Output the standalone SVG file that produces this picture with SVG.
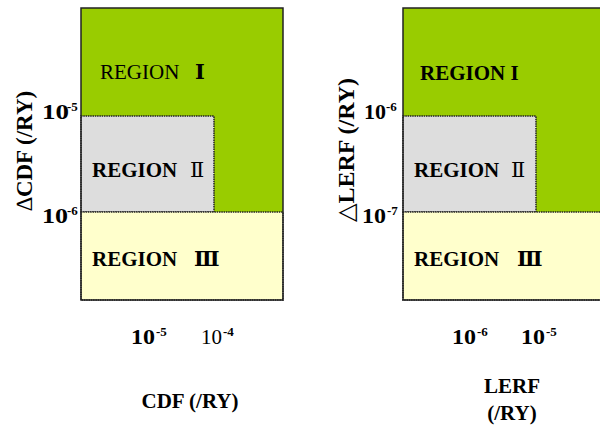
<svg xmlns="http://www.w3.org/2000/svg" width="600" height="429" viewBox="0 0 600 429">
<style>
text{font-family:"Liberation Serif","DejaVu Serif","Noto Sans CJK JP",serif;fill:#000}
.b{font-weight:bold}
.reg{font-size:21px}
.tick{font-size:20px;font-weight:bold}
.sup{font-size:13px;font-weight:bold}
.ax{font-size:21px;font-weight:bold}
.green{fill:#99CC00}
.gray{fill:#DDDDDD;stroke:#222;stroke-width:1.5;stroke-dasharray:1.5 0.8}
.yellow{fill:#FFFFCC;stroke:#222;stroke-width:1.5;stroke-dasharray:1.5 0.8}
.frame{fill:none;stroke:#222;stroke-width:1.5}
</style>
<rect width="600" height="429" fill="#fff"/>

<!-- Left chart -->
<g id="left-chart">
  <g id="left-region1">
    <rect class="green" x="81" y="8" width="202" height="204"/>
    <text class="reg" x="100" y="79"><tspan>REGION </tspan><tspan class="b" x="195">Ⅰ</tspan></text>
  </g>
  <g id="left-region2">
    <rect class="gray" x="81" y="116" width="133" height="96"/>
    <text class="reg b" x="92" y="177">REGION</text>
    <text class="reg" x="190" y="177">Ⅱ</text>
  </g>
  <g id="left-region3">
    <rect class="yellow" x="81" y="212" width="202" height="88"/>
    <text class="reg b" x="92" y="266">REGION</text>
    <text class="reg b" x="194" y="266">Ⅲ</text>
  </g>
  <rect class="frame" x="81" y="8" width="202" height="292"/>
  <g id="left-yticks">
    <text class="tick" x="42" y="119" textLength="27" lengthAdjust="spacingAndGlyphs">10</text>
    <text class="sup" x="67" y="111">-5</text>
    <text class="tick" x="42" y="223" textLength="26" lengthAdjust="spacingAndGlyphs">10</text>
    <text class="sup" x="67" y="215">-6</text>
  </g>
  <g id="left-xticks">
    <text class="tick" x="131" y="344" textLength="24" lengthAdjust="spacingAndGlyphs">10</text>
    <text class="sup" x="156" y="336">-5</text>
    <text style="font-size:20px" x="201" y="344" textLength="21" lengthAdjust="spacingAndGlyphs">10</text>
    <text class="sup" x="223" y="336">-4</text>
  </g>
  <text id="left-ylabel" class="ax" style="font-size:23px" transform="translate(32,151) rotate(-90)" text-anchor="middle"><tspan style="font-weight:normal">∆</tspan>CDF (/RY)</text>
  <text id="left-xlabel" class="ax" x="190" y="408" text-anchor="middle">CDF (/RY)</text>
</g>

<!-- Right chart -->
<g id="right-chart">
  <g id="right-region1">
    <rect class="green" x="403" y="8" width="200" height="204"/>
    <text class="reg b" x="420" y="80">REGION I</text>
  </g>
  <g id="right-region2">
    <rect class="gray" x="403" y="116" width="133" height="96"/>
    <text class="reg b" x="414" y="177">REGION</text>
    <text class="reg" x="511" y="177">Ⅱ</text>
  </g>
  <g id="right-region3">
    <rect class="yellow" x="403" y="212" width="200" height="88"/>
    <text class="reg b" x="414" y="266">REGION</text>
    <text class="reg b" x="517" y="266">Ⅲ</text>
  </g>
  <rect class="frame" x="403" y="8" width="200" height="292"/>
  <g id="right-yticks">
    <text class="tick" x="364" y="119" textLength="22" lengthAdjust="spacingAndGlyphs">10</text>
    <text class="sup" x="386" y="111">-6</text>
    <text class="tick" x="362" y="223" textLength="24" lengthAdjust="spacingAndGlyphs">10</text>
    <text class="sup" x="387" y="215">-7</text>
  </g>
  <g id="right-xticks">
    <text class="tick" x="452" y="344" textLength="24" lengthAdjust="spacingAndGlyphs">10</text>
    <text class="sup" x="477" y="336">-6</text>
    <text class="tick" x="521" y="344" textLength="24" lengthAdjust="spacingAndGlyphs">10</text>
    <text class="sup" x="546" y="336">-5</text>
  </g>
  <text id="right-ylabel" class="ax" style="font-size:24px" transform="translate(354,150) rotate(-90)" text-anchor="middle"><tspan style="font-weight:normal">△</tspan>LERF (/RY)</text>
  <text id="right-xlabel1" class="ax" x="512" y="393" text-anchor="middle">LERF</text>
  <text id="right-xlabel2" class="ax" x="512" y="420" text-anchor="middle">(/RY)</text>
</g>
</svg>
